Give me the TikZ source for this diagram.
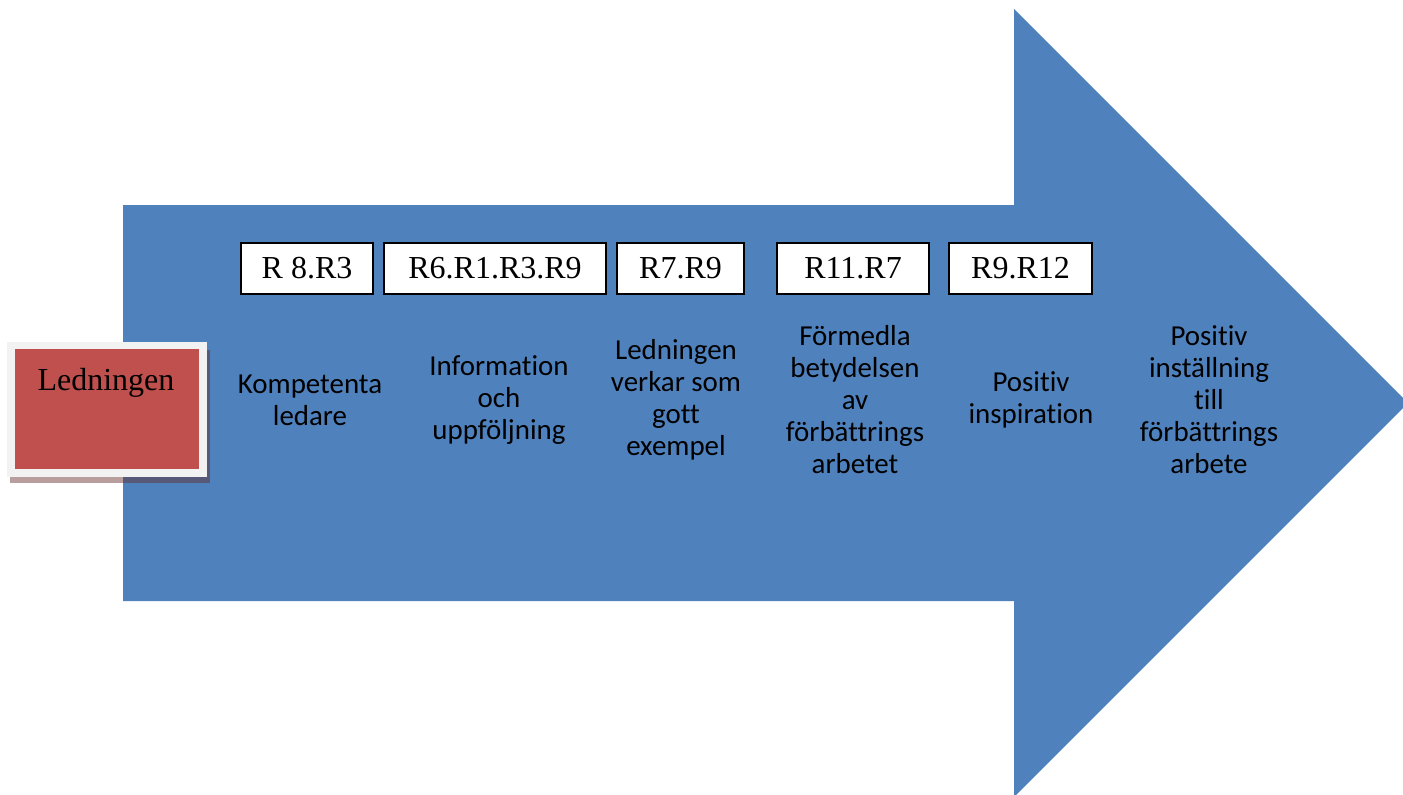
\documentclass[tikz,border=0pt]{standalone}
\usepackage{fontspec}
\setmainfont{Liberation Serif}
\newfontfamily\calib[Ligatures={NoCommon,NoRequired,NoContextual,NoRare,NoDiscretionary}]{Carlito}
\definecolor{arrowblue}{HTML}{4F81BD}
\definecolor{boxred}{HTML}{C0504D}
\definecolor{framegray}{HTML}{F2F2F2}
\definecolor{shadowcol}{RGB}{100,40,40}
\tikzset{
  refbox/.style={draw=black, line width=1.1pt, fill=white, inner sep=0pt,
    font=\fontsize{24}{27}\selectfont, text=black},
  lbl/.style={align=center, inner sep=0pt, text=black,
    font=\calib\fontsize{21.7}{24}\selectfont},
}
\begin{document}
\begin{tikzpicture}[x=0.75pt,y=-0.75pt]
\useasboundingbox (0,0) rectangle (1403,794);
\begin{scope}
\clip (0,0) rectangle (1403,794);
% big arrow
\fill[arrowblue] (123,205) -- (1014,205) -- (1014,9) -- (1408,403)
  -- (1014,797) -- (1014,601) -- (123,601) -- cycle;
\end{scope}
% Ledningen box with shadow and frame
\fill[shadowcol, opacity=0.45] (10,350) rectangle (210,483);
\fill[framegray] (7,342) rectangle (207,477);
\node[fill=boxred, minimum width=184*0.75pt, minimum height=120*0.75pt,
  inner sep=0pt, anchor=north west] (led) at (15,349) {};
\node[font=\fontsize{24}{27}\selectfont, anchor=base] (ledtext) at (106,390) {Ledningen};
% reference boxes
\node[refbox, minimum width=132*0.75pt, minimum height=51*0.75pt] (r1) at (307,268.5) {R 8.R3};
\node[refbox, minimum width=222*0.75pt, minimum height=51*0.75pt] (r2) at (495,268.5) {R6.R1.R3.R9};
\node[refbox, minimum width=127*0.75pt, minimum height=51*0.75pt] (r3) at (680.5,268.5) {R7.R9};
\node[refbox, minimum width=152*0.75pt, minimum height=51*0.75pt] (r4) at (853,268.5) {R11.R7};
\node[refbox, minimum width=143*0.75pt, minimum height=51*0.75pt] (r5) at (1020.5,268.5) {R9.R12};
% labels
\node[lbl] (l1) at (310,400) {Kompetenta\\ledare};
\node[lbl] (l2) at (499,400) {Information\\och\\uppföljning};
\node[lbl] (l3) at (676,400) {Ledningen\\verkar som\\gott\\exempel};
\node[lbl] (l4) at (855,400) {Förmedla\\betydelsen\\av\\förbättrings\\arbetet};
\node[lbl] (l5) at (1031,400) {Positiv\\inspiration};
\node[lbl] (l6) at (1209,400) {Positiv\\inställning\\till\\förbättrings\\arbete};
\end{tikzpicture}
\end{document}
